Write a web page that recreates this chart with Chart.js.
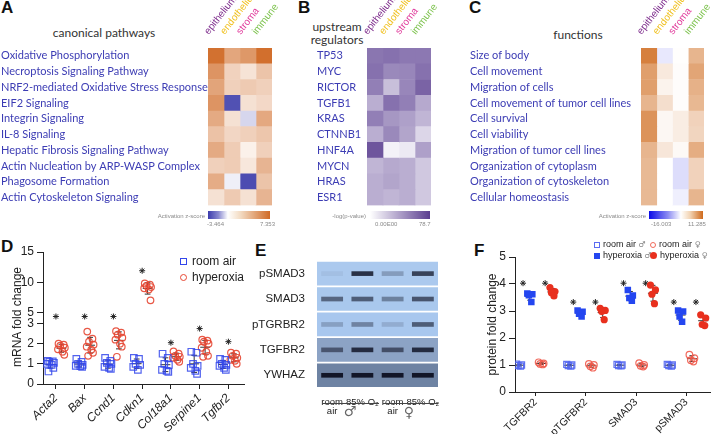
<!DOCTYPE html>
<html lang="en">
<head>
<meta charset="UTF-8">
<title>Lung cell-type pathways and hyperoxia TGF-beta signalling</title>
<script src="https://cdn.jsdelivr.net/npm/chart.js"></script>
<style>
  body { margin: 0; width: 716px; height: 434px; position: relative; overflow: hidden; background: #fff;
         font-family: 'Liberation Sans', Arial, sans-serif; color: #222; }
  canvas, .t { position: absolute; }
  .pl { position: absolute; font-weight: bold; font-size: 17px; line-height: 20px; color: #111; }
  .ttl { position: absolute; font-family: Lato, sans-serif; font-size: 12px; color: #333; text-align: center; }
  .tiny { position: absolute; font-size: 6px; color: #8a8a8a; white-space: nowrap; }
  .bar { position: absolute; height: 8px; }
  .leg { position: absolute; white-space: nowrap; line-height: 12px; }
  .mk { display: inline-block; vertical-align: middle; box-sizing: border-box; }
  .sex { color: #888; font-family: 'DejaVu Sans', sans-serif; }
</style>
</head>
<body>
<!-- panel letters -->
<div class="pl" style="left:1px;top:-2px">A</div>
<div class="pl" style="left:298px;top:-2px">B</div>
<div class="pl" style="left:469px;top:-2px">C</div>
<div class="pl" style="left:1px;top:237px">D</div>
<div class="pl" style="left:255px;top:241px">E</div>
<div class="pl" style="left:474px;top:241px">F</div>

<!-- heatmap titles -->
<div class="ttl" style="left:4px;width:200px;top:26px;line-height:14px">canonical pathways</div>
<div class="ttl" style="left:287px;width:100px;top:20px;line-height:13px">upstream<br>regulators</div>
<div class="ttl" style="left:528px;width:100px;top:28px;line-height:14px">functions</div>

<canvas id="heatA" width="300" height="212" style="left:0;top:0"></canvas>
<canvas id="heatB" width="146" height="212" style="left:316px;top:0"></canvas>
<canvas id="heatC" width="247" height="212" style="left:469px;top:0"></canvas>

<!-- colour keys -->
<div class="bar" style="left:208px;top:211px;width:62px;background:linear-gradient(to right,#3c3cad 0%,#8a8ad0 17%,#ffffff 32%,#f3dcc4 52%,#d06a26 100%)"></div>
<div class="tiny" style="left:150px;width:55px;text-align:right;top:213px">Activation z-score</div>
<div class="tiny" style="left:207px;top:221px">-3.464</div>
<div class="tiny" style="left:260px;top:221px">7.353</div>

<div class="bar" style="left:370px;top:211px;width:60px;background:linear-gradient(to right,#ffffff 0%,#5b3e90 100%)"></div>
<div class="tiny" style="left:320px;width:46px;text-align:right;top:213px">-log(p-value)</div>
<div class="tiny" style="left:375px;top:221px">0.00E00</div>
<div class="tiny" style="left:419px;top:221px">78.7</div>

<div class="bar" style="left:649px;top:211px;width:54px;background:linear-gradient(to right,#0c0ce8 0%,#8c8cf2 35%,#ffffff 59%,#f2d4b4 76%,#cf6a1c 100%)"></div>
<div class="tiny" style="left:590px;width:56px;text-align:right;top:213px">Activation z-score</div>
<div class="tiny" style="left:651px;top:221px">-16.003</div>
<div class="tiny" style="left:688px;top:221px">11.285</div>

<!-- D -->
<canvas id="mrna" width="250" height="194" style="left:0;top:240px"></canvas>
<div class="t" style="left:-39px;top:310px;width:112px;text-align:center;font-size:12px;transform:rotate(-90deg)">mRNA fold change</div>
<div class="leg" style="left:180px;top:255px;font-size:12px">
  <span class="mk" style="width:7px;height:7px;border:1.3px solid #3246eb;margin-right:5px"></span>room air</div>
<div class="leg" style="left:180px;top:271px;font-size:12px">
  <span class="mk" style="width:7px;height:7px;border:1.3px solid #e64632;border-radius:50%;margin-right:5px"></span>hyperoxia</div>

<!-- E -->
<canvas id="blot" width="195" height="165" style="left:250px;top:250px"></canvas>
<div class="t" style="left:322px;top:403px;width:57px;border-top:1px solid #444"></div>
<div class="t" style="left:383px;top:403px;width:55px;border-top:1px solid #444"></div>
<div class="t sex" style="left:340px;top:403px;width:20px;text-align:center;font-size:14px;color:#666">♂</div>
<div class="t sex" style="left:399px;top:404px;width:20px;text-align:center;font-size:14px;color:#666">♀</div>

<!-- F -->
<canvas id="protein" width="246" height="204" style="left:470px;top:230px"></canvas>
<div class="leg" style="left:594px;top:238px;font-size:9px">
  <span class="mk" style="width:6px;height:6px;border:1.2px solid #5b6cf2;margin-right:3px"></span>room air <span class="sex" style="font-size:8px">♂</span></div>
<div class="leg" style="left:594px;top:249px;font-size:9px">
  <span class="mk" style="width:6px;height:6px;background:#2446f0;margin-right:3px"></span>hyperoxia <span class="sex" style="font-size:8px">♂</span></div>
<div class="leg" style="left:650px;top:238px;font-size:9px">
  <span class="mk" style="width:6px;height:6px;border:1.2px solid #f06a5a;border-radius:50%;margin-right:3px"></span>room air <span class="sex" style="font-size:8px">♀</span></div>
<div class="leg" style="left:650px;top:249px;font-size:9px">
  <span class="mk" style="width:7px;height:7px;background:#e8301e;border-radius:50%;margin-right:3px"></span>hyperoxia <span class="sex" style="font-size:8px">♀</span></div>

<script>
// ---------- data ----------
const cellTypes = ['epithelium', 'endothelium', 'stroma', 'immune'];

const pathways = ['Oxidative Phosphorylation', 'Necroptosis Signaling Pathway',
  'NRF2-mediated Oxidative Stress Response', 'EIF2 Signaling', 'Integrin Signaling', 'IL-8 Signaling',
  'Hepatic Fibrosis Signaling Pathway', 'Actin Nucleation by ARP-WASP Complex', 'Phagosome Formation',
  'Actin Cytoskeleton Signaling'];
const pathwayZ = [
  [7.0, 4.4, 5.1, 7.1],
  [5.3, 2.2, 1.4, 2.9],
  [4.5, 2.3, 2.6, 2.3],
  [5.3, -3.2, 1.5, 1.9],
  [4.2, 1.5, -0.75, 4.3],
  [3.0, 2.0, 2.3, 2.8],
  [4.2, 2.5, 0.7, 2.3],
  [2.3, 2.5, 1.2, 3.7],
  [4.1, -0.3, -3.3, 2.9],
  [1.5, 2.6, 1.5, 3.7]
];
const pathwayDots = [
  [0, 0, 0, 0], [0, 0, 1, 0], [0, 0, 0, 0], [0, 0, 1, 1], [0, 1, 1, 0],
  [0, 1, 0, 0], [0, 0, 1, 0], [0, 0, 1, 0], [0, 1, 0, 0], [1, 0, 1, 0]
];

const regulators = ['TP53', 'MYC', 'RICTOR', 'TGFB1', 'KRAS', 'CTNNB1', 'HNF4A', 'MYCN', 'HRAS', 'ESR1'];
const regulatorP = [
  [55, 57, 54, 54],
  [57, 47, 48, 57],
  [51, 24, 48, 63],
  [31, 57, 51, 33],
  [51, 41, 37, 28],
  [31, 47, 35, 14],
  [69, 2, 6, 37],
  [28, 33, 31, 20],
  [31, 35, 31, 20],
  [31, 28, 31, 20]
];

const functionsList = ['Size of body', 'Cell movement', 'Migration of cells', 'Cell movement of tumor cell lines',
  'Cell survival', 'Cell viability', 'Migration of tumor cell lines', 'Organization of cytoplasm',
  'Organization of cytoskeleton', 'Cellular homeostasis'];
const functionZ = [
  [9.6, -1.6, 0.1, 5.6],
  [7.3, 1.7, 0.2, 6.8],
  [7.3, 0.9, 0.2, 5.9],
  [5.6, 2.5, 0.2, 5.4],
  [8.2, 0.6, 1.4, 3.4],
  [8.2, 0.6, 1.4, 3.2],
  [5.6, 1.9, 0.45, 6.2],
  [5.3, 0.0, -2.3, 3.4],
  [5.3, 0.0, -2.3, 3.4],
  [5.3, 0.0, -1.1, 5.6]
];
const functionDots = [
  [0, 1, 1, 0], [0, 1, 1, 0], [0, 1, 1, 0], [0, 0, 1, 0], [0, 1, 1, 0],
  [0, 1, 1, 0], [0, 1, 1, 0], [0, 1, 0, 0], [0, 1, 0, 0], [0, 1, 1, 0]
];

const genes = ['Acta2', 'Bax', 'Ccnd1', 'Cdkn1', 'Col18a1', 'Serpine1', 'Tgfbr2'];
const mrnaRoomAir = [
  [1.15, 1.12, 1.1, 1.05, 1.0, 0.95, 0.8, 0.62],
  [1.25, 1.1, 1.0, 0.95, 0.9, 0.88, 0.85],
  [1.3, 1.15, 1.05, 1.0, 0.85, 0.8, 0.75],
  [1.3, 1.25, 1.0, 0.95, 0.85, 0.7],
  [1.5, 1.3, 1.0, 0.95, 0.7, 0.65, 0.6],
  [1.6, 1.55, 1.0, 0.9, 0.8, 0.65, 0.5],
  [1.25, 1.2, 1.0, 0.95, 0.9, 0.8, 0.7]
];
const mrnaHyperoxia = [
  [2.0, 1.95, 1.9, 1.8, 1.72, 1.6, 1.45],
  [2.6, 2.25, 2.1, 1.95, 1.85, 1.7, 1.55, 1.4],
  [2.62, 2.55, 2.45, 2.3, 2.2, 2.0, 1.85, 1.35],
  [9.8, 9.6, 9.4, 9.2, 9.0, 8.8, 7.0],
  [1.62, 1.5, 1.4, 1.35, 1.3, 1.2, 1.1],
  [2.2, 2.15, 2.1, 2.0, 1.8, 1.6, 1.4, 1.35],
  [1.55, 1.5, 1.4, 1.3, 1.2, 1.15, 1.0]
];
const mrnaStars = [3.35, 3.35, 3.35, 11.9, 2.05, 2.75, 2.1];

const blotRows = ['pSMAD3', 'SMAD3', 'pTGRBR2', 'TGFBR2', 'YWHAZ'];
const blotLanes = [['room', 'air'], '85% O₂', ['room', 'air'], '85% O₂'];
const bandIntensity = [
  [0.05, 0.85, 0.25, 0.75],
  [0.55, 0.6, 0.4, 0.65],
  [0.22, 0.38, 0.15, 0.6],
  [0.55, 0.85, 0.6, 0.85],
  [1, 1, 1, 1]
];

const proteins = ['TGFBR2', 'pTGFBR2', 'SMAD3', 'pSMAD3'];
const protRoomAirMale = [[1.03, 1.0, 0.98, 0.96], [1.02, 1.0, 0.98, 0.96], [1.02, 1.0, 0.98, 0.97], [1.02, 1.0, 0.98, 0.96]];
const protHyperoxiaMale = [[3.65, 3.62, 3.58, 3.33], [3.02, 2.97, 2.9, 2.8], [3.78, 3.57, 3.48, 3.38], [3.02, 2.98, 2.8, 2.6]];
const protRoomAirFemale = [[1.1, 1.06, 1.04, 1.02], [1.04, 1.0, 0.95, 0.9], [1.07, 1.0, 0.97, 0.94], [1.38, 1.25, 1.18, 1.13]];
const protHyperoxiaFemale = [[3.87, 3.72, 3.68, 3.56], [3.1, 3.02, 2.98, 2.68], [3.96, 3.78, 3.62, 3.27], [2.86, 2.74, 2.5, 2.46]];
const protStars = [4.03, 3.33, 4.03, 3.33];

// ---------- helpers ----------
Chart.defaults.font.family = "'Liberation Sans', Arial, sans-serif";
Chart.defaults.color = '#222';
Chart.defaults.animation = false;
Chart.defaults.responsive = false;
Chart.defaults.plugins.legend.display = false;
Chart.defaults.plugins.tooltip.enabled = false;

const colColors = ['#7d2b8c', '#f0c01e', '#e0389a', '#7cc24c'];
const rowBlue = '#3c3cb4';

function mix(c1, c2, t) {
  t = Math.max(0, Math.min(1, t));
  const a = parseInt(c1.slice(1), 16), b = parseInt(c2.slice(1), 16);
  const ch = s => Math.round(((a >> s) & 255) * (1 - t) + ((b >> s) & 255) * t);
  return `rgb(${ch(16)},${ch(8)},${ch(0)})`;
}
const diverging = (lo, hi, loCol, hiCol) => v => v >= 0 ? mix('#ffffff', hiCol, v / hi) : mix('#ffffff', loCol, v / lo);

const mean = a => a.reduce((s, v) => s + v, 0) / a.length;
const sd = a => { const m = mean(a); return Math.sqrt(a.reduce((s, v) => s + (v - m) * (v - m), 0) / (a.length - 1)); };

// rotated tick labels must not shrink the plot area
const noSidePad = s => { s.paddingLeft = 0; s.paddingRight = 0; };

// mean line + sd whiskers as broken line segments
function statLines(groups, xs, half, cap) {
  const pts = [];
  groups.forEach((vals, i) => {
    const m = mean(vals), s = sd(vals), x = xs[i];
    pts.push({x: x - half, y: m}, {x: x + half, y: m}, {x: x, y: null});
    pts.push({x: x, y: m - s}, {x: x, y: m + s}, {x: x, y: null});
    pts.push({x: x - cap, y: m - s}, {x: x + cap, y: m - s}, {x: x, y: null});
    pts.push({x: x - cap, y: m + s}, {x: x + cap, y: m + s}, {x: x, y: null});
  });
  return pts;
}

// ---------- heatmaps A, B, C ----------
function heatmap(id, rows, values, dots, colorFor, yWidth, padRight) {
  const datasets = cellTypes.map((c, j) => ({
    label: c,
    data: rows.map(() => 1),
    backgroundColor: values.map(r => colorFor(r[j])),
    borderWidth: 0,
    barPercentage: 1,
    categoryPercentage: 1
  }));
  const dotPts = [];
  dots.forEach((r, i) => r.forEach((d, j) => { if (d) dotPts.push({x: j + 0.5, y: i}); }));
  datasets.push({type: 'scatter', data: dotPts, xAxisID: 'xd', pointRadius: 1.8,
    backgroundColor: '#6e6e6e', borderWidth: 0});

  new Chart(document.getElementById(id), {
    type: 'bar',
    data: {labels: rows, datasets: datasets},
    options: {
      indexAxis: 'y',
      layout: {padding: {left: 1, right: padRight, top: 0, bottom: 4}},
      scales: {
        x: {display: false, stacked: true, min: 0, max: 4},
        xd: {
          type: 'linear', position: 'top', min: 0, max: 4,
          grid: {display: false}, border: {display: false},
          afterBuildTicks: s => { s.ticks = cellTypes.map((c, j) => ({value: j + 0.5})); },
          afterFit: s => { s.height = 48; noSidePad(s); },
          ticks: {autoSkip: false, minRotation: 52, maxRotation: 52, padding: 3,
            font: {size: 10}, color: ctx => colColors[ctx.index], callback: (v, i) => cellTypes[i]}
        },
        y: {
          stacked: true, grid: {display: false}, border: {display: false},
          afterFit: s => { s.width = yWidth; },
          ticks: {autoSkip: false, crossAlign: 'far', padding: 0, color: rowBlue, font: {family: 'Lato', size: 11}}
        }
      }
    }
  });
}

heatmap('heatA', pathways, pathwayZ, pathwayDots, diverging(-3.464, 7.353, '#4343ad', '#d06a26'), 207, 28);
heatmap('heatB', regulators, regulatorP, regulators.map(() => [0, 0, 0, 0]), v => mix('#f8f7fb', '#5b3e90', v / 78.7), 50, 31);
heatmap('heatC', functionsList, functionZ, functionDots, diverging(-16.003, 11.285, '#1414e6', '#cf6a1c'), 171, 12);

// ---------- D: mRNA fold change with broken axis ----------
const spreadD = [-0.1, 0.08, -0.04, 0.12, -0.12, 0.04, 0.1, -0.07];
const BREAK = 4;
function pointsAt(groups, offset, spread, upper) {
  const pts = [];
  groups.forEach((vals, i) => vals.forEach((v, k) => {
    if ((v > BREAK) === upper) pts.push({x: i + offset + spread[k % spread.length], y: v});
  }));
  return pts;
}
const gx = genes.map((g, i) => i);
const hyLow = mrnaHyperoxia.map(v => mean(v) > BREAK ? [] : v);
const hyHigh = mrnaHyperoxia.map(v => mean(v) > BREAK ? v : []);
const raStyle = {pointStyle: 'rect', pointRadius: 4.6, borderColor: 'rgba(50,70,235,0.85)', backgroundColor: 'rgba(0,0,0,0)', borderWidth: 1.2};
const hyStyle = {pointStyle: 'circle', pointRadius: 3.3, borderColor: 'rgba(230,70,50,0.9)', backgroundColor: 'rgba(0,0,0,0)', borderWidth: 1.2};
const statStyle = {type: 'line', showLine: true, pointRadius: 0, borderColor: '#333', borderWidth: 1, spanGaps: false};
const starStyle = {pointStyle: 'star', pointRadius: 3, borderColor: '#222', borderWidth: 1};
const axisCommon = {
  grid: {drawOnChartArea: false, tickLength: 6, color: '#222'},
  border: {color: '#222'},
  afterFit: s => { s.width = 43; }
};

new Chart(document.getElementById('mrna'), {
  type: 'scatter',
  data: {datasets: [
    Object.assign({data: pointsAt(mrnaRoomAir, -0.19, spreadD, false), yAxisID: 'y'}, raStyle),
    Object.assign({data: pointsAt(mrnaHyperoxia, 0.19, spreadD, false), yAxisID: 'y'}, hyStyle),
    Object.assign({data: pointsAt(mrnaHyperoxia, 0.19, spreadD, true), yAxisID: 'y2'}, hyStyle),
    Object.assign({data: statLines(mrnaRoomAir, gx.map(x => x - 0.19), 0.17, 0.1), yAxisID: 'y'}, statStyle),
    Object.assign({data: statLines(hyLow.filter(v => v.length), gx.filter((x, i) => hyLow[i].length).map(x => x + 0.19), 0.17, 0.1), yAxisID: 'y'}, statStyle),
    Object.assign({data: statLines(hyHigh.filter(v => v.length), gx.filter((x, i) => hyHigh[i].length).map(x => x + 0.19), 0.17, 0.1), yAxisID: 'y2'}, statStyle),
    Object.assign({data: mrnaStars.map((v, i) => ({x: i, y: v})).filter(p => p.y <= BREAK), yAxisID: 'y'}, starStyle),
    Object.assign({data: mrnaStars.map((v, i) => ({x: i, y: v})).filter(p => p.y > BREAK), yAxisID: 'y2'}, starStyle)
  ]},
  options: {
    layout: {padding: {top: 12, right: 5, left: 0, bottom: 0}},
    scales: {
      x: {
        type: 'linear', min: -0.45, max: 6.55,
        grid: {drawOnChartArea: false, tickLength: 5, color: '#222'}, border: {color: '#222'},
        afterBuildTicks: s => { s.ticks = genes.map((g, i) => ({value: i})); },
        afterFit: s => { s.height = 50; noSidePad(s); },
        ticks: {autoSkip: false, minRotation: 45, maxRotation: 45, padding: 2,
          font: {size: 12, style: 'italic'}, callback: (v, i) => genes[i]}
      },
      y: Object.assign({type: 'linear', position: 'left', stack: 'mrna', stackWeight: 71, min: 0, max: 3.55,
        ticks: {autoSkip: false, stepSize: 1, includeBounds: false, padding: 3, font: {size: 12}}}, axisCommon),
      y2: Object.assign({type: 'linear', position: 'left', stack: 'mrna', stackWeight: 60, min: 5, max: 15,
        ticks: {autoSkip: false, stepSize: 5, padding: 3, font: {size: 12}}}, axisCommon)
    }
  }
});

// ---------- E: western blot ----------
const rowShade = ['#abc9ee', '#a9c8ed', '#a8c7ee', '#8ca3c5', '#6e83a3'];
const blotSets = [{
  data: blotRows.map(() => [0, 4]),
  backgroundColor: rowShade,
  barThickness: 23, grouped: false, order: 1
}];
blotLanes.forEach((lane, l) => blotSets.push({
  data: blotRows.map(() => [l + 0.15, l + 0.85]),
  backgroundColor: bandIntensity.map(r => `rgba(18,22,40,${r[l]})`),
  barThickness: 4, grouped: false, order: 0
}));

new Chart(document.getElementById('blot'), {
  type: 'bar',
  data: {labels: blotRows, datasets: blotSets},
  options: {
    indexAxis: 'y',
    layout: {padding: {top: 6, right: 7, left: 0, bottom: 0}},
    scales: {
      x: {
        type: 'linear', min: 0, max: 4,
        grid: {display: false}, border: {display: false},
        afterBuildTicks: s => { s.ticks = blotLanes.map((b, i) => ({value: i + 0.5})); },
        afterFit: s => { s.height = 27; noSidePad(s); },
        ticks: {autoSkip: false, maxRotation: 0, padding: 2, font: {size: 9.5, lineHeight: 0.95},
          callback: (v, i) => blotLanes[i]}
      },
      y: {
        grid: {display: false}, border: {display: false},
        afterFit: s => { s.width = 67; },
        ticks: {padding: 4, font: {size: 11.5}}
      }
    }
  }
});

// ---------- F: protein fold change ----------
const spreadF = [-0.05, 0.05, -0.02, 0.03];
const groupOffsets = [-0.33, -0.115, 0.11, 0.335];
function protPoints(groups, off) {
  const pts = [];
  groups.forEach((vals, i) => vals.forEach((v, k) => pts.push({x: i + off + spreadF[k], y: v})));
  return pts;
}
const px = proteins.map((p, i) => i);
const fGroups = [protRoomAirMale, protHyperoxiaMale, protRoomAirFemale, protHyperoxiaFemale];
const fStyles = [
  {pointStyle: 'rect', pointRadius: 4.3, borderColor: 'rgba(80,100,240,0.9)', backgroundColor: 'rgba(0,0,0,0)', borderWidth: 1.2},
  {pointStyle: 'rect', pointRadius: 4.6, borderColor: '#2446f0', backgroundColor: '#2446f0', borderWidth: 0},
  {pointStyle: 'circle', pointRadius: 3.3, borderColor: 'rgba(240,90,75,0.9)', backgroundColor: 'rgba(0,0,0,0)', borderWidth: 1.2},
  {pointStyle: 'circle', pointRadius: 3.6, borderColor: '#e8301e', backgroundColor: '#e8301e', borderWidth: 0}
];
const fSets = [];
fGroups.forEach((g, j) => {
  fSets.push(Object.assign({data: protPoints(g, groupOffsets[j])}, fStyles[j]));
  fSets.push(Object.assign({data: statLines(g, px.map(x => x + groupOffsets[j]), 0.1, 0.05)}, statStyle));
});
fSets.push(Object.assign({data: protStars.map((v, i) => ({x: i - 0.25, y: v}))
  .concat(protStars.map((v, i) => ({x: i + 0.19, y: v})))}, starStyle));

new Chart(document.getElementById('protein'), {
  type: 'scatter',
  data: {datasets: fSets},
  options: {
    layout: {padding: {top: 27, right: 0, left: 15, bottom: 0}},
    scales: {
      x: {
        type: 'linear', min: -0.41, max: 3.48,
        grid: {drawOnChartArea: false, tickLength: 4, color: '#222'}, border: {color: '#222'},
        afterBuildTicks: s => { s.ticks = proteins.map((p, i) => ({value: i})); },
        afterFit: s => { s.height = 42; noSidePad(s); },
        ticks: {autoSkip: false, minRotation: 45, maxRotation: 45, padding: 0, font: {size: 10.5},
          callback: (v, i) => proteins[i]}
      },
      y: {
        min: 0, max: 5,
        grid: {drawOnChartArea: false, tickLength: 6, color: '#222'}, border: {color: '#222'},
        afterFit: s => { s.width = 30; },
        title: {display: true, text: 'protein fold change', font: {size: 12}, padding: {top: 0, bottom: 2}},
        ticks: {autoSkip: false, stepSize: 1, padding: 3, font: {size: 12}}
      }
    }
  }
});
</script>
</body>
</html>
